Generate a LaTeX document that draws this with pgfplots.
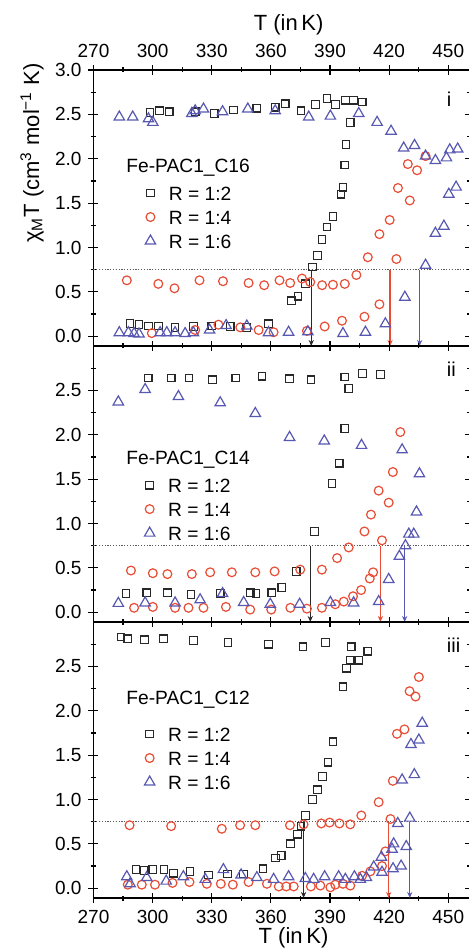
\documentclass[border=0pt]{standalone}
\usepackage{fontspec}
\setmainfont{Liberation Sans}
\usepackage{pgfplots}
\pgfplotsset{compat=1.18}
\usetikzlibrary{arrows.meta}

\definecolor{cblk}{RGB}{40,40,40}
\definecolor{cred}{RGB}{232,76,52}
\definecolor{cblu}{RGB}{88,88,178}
\definecolor{cdot}{RGB}{90,90,90}

\tikzset{
  ttl/.style={anchor=west, inner sep=0pt, text height=7pt, text depth=0pt, font=\fontsize{9.6}{11}\selectfont},
  plab/.style={anchor=west, inner sep=0pt, font=\fontsize{10}{12}\selectfont},
  alab/.style={anchor=base, inner sep=0pt, font=\fontsize{11}{13}\selectfont},
}
\pgfplotsset{
  panel/.style={
    scale only axis, width=188.2pt, height=138pt, clip=false,
    xmin=270, xmax=461, ymin=-0.11, ymax=3.0,
    xtick={270,300,...,450}, minor xtick={285,315,...,435},
    minor ytick={0.25,0.75,...,2.75},
    tick align=center, major tick length=5pt, minor tick length=2.5pt,
    tick style={line width=0.6pt, black},
    axis line style={line width=0.8pt},
    yticklabel pos=left,
    ticklabel style={font=\fontsize{9.5}{11}\selectfont},
    yticklabel style={/pgf/number format/.cd, fixed, fixed zerofill, precision=1, assume math mode=true},
    xticklabel style={/pgf/number format/.cd, assume math mode=true},
    legend cell align=left,
    legend style={draw=none, fill=none, inner sep=0pt, outer sep=0pt,
      row sep=5pt, column sep=5pt,
      nodes={inner sep=0pt, text height=7pt, text depth=0pt, font=\fontsize{9.6}{11}\selectfont}},
    legend image code/.code={\path (-4pt,0pt) (4pt,0pt); \draw[##1] plot coordinates {(0pt,0pt)};},
  },
  sq/.style={only marks, mark=square, mark size=1.9pt, color=cblk, mark options={line width=0.6pt}},
  ci/.style={only marks, mark=o, mark size=2.2pt, color=cred, mark options={line width=0.6pt}},
  tr/.style={only marks, mark=triangle, mark size=3pt, color=cblu, mark options={line width=0.6pt}},
  dotl/.style={cdot, line width=0.5pt, dash pattern=on 0.6pt off 0.8pt, forget plot},
  arr/.style={line width=0.6pt, -{Stealth[length=3pt,width=2.6pt]}, forget plot},
}

\begin{document}
\begin{tikzpicture}
\path[use as bounding box] (-46.75pt,-25pt) rectangle (187.25pt,449pt);

% ---------------- panel i ----------------
\begin{axis}[panel, at={(0pt,276pt)}, anchor=south west,
  ytick={0,0.5,...,3.0}, xticklabel pos=upper,
  legend style={at={(axis cs:298.7,1.343)}, anchor=west, xshift=-4pt}]
\addplot[dotl] coordinates {(270,0.75) (461,0.75)};
\addplot[arr, cblk] coordinates {(380.5,0.75) (380.5,-0.11)};
\addplot[arr, cred] coordinates {(420.5,0.75) (420.5,-0.11)};
\addplot[arr, cblu] coordinates {(435.5,0.75) (435.5,-0.11)};
\addplot[sq] coordinates {
(288.5,0.145) (293.1,0.13) (297.9,0.115) (302.9,0.115) (311.4,0.10) (320.7,0.11) (330,0.115) (339.4,0.11) (347.8,0.10) (358.8,0.14) (370.4,0.40) (373.8,0.45) (377.5,0.59) (381.2,0.78) (383.7,0.91) (385.9,1.09) (388.5,1.23) (391.5,1.35) (395.6,1.60) (396.6,1.68) (397.5,1.93) (398.1,2.16) (400.3,2.41) (298.7,2.52) (303.4,2.54) (308.4,2.53) (321.6,2.53) (331.2,2.51) (341.0,2.55) (352.9,2.57) (362.2,2.58) (367.3,2.62) (375.3,2.54) (382.6,2.61) (388.5,2.68) (392.7,2.61) (397.8,2.66) (402,2.66) (406.3,2.64)};
\addlegendentry{R = 1:2}
\addplot[ci] coordinates {
(286.9,0.63) (302.9,0.59) (311.1,0.54) (323.8,0.63) (335.7,0.62) (348.7,0.60) (356.6,0.575) (364.4,0.63) (369.8,0.60) (375.8,0.65) (380,0.61) (386,0.575) (391.5,0.58) (397.5,0.59) (403.4,0.69) (409.2,0.89) (415.1,1.15) (420.3,1.31) (423.7,0.87) (424.5,1.67) (429.5,1.94) (430.5,1.53) (434.2,1.87) (438.5,2.03) (415.1,0.36) (407.5,0.22) (396.1,0.175) (387.3,0.11) (378.3,0.06) (361.4,0.045) (353.8,0.07) (344.5,0.10) (333.4,0.13) (321.6,0.07) (299.6,0.035)};
\addlegendentry{R = 1:4}
\addplot[tr] coordinates {
(283.1,2.47) (289.9,2.47) (297.9,2.45) (300.1,2.41) (319.9,2.51) (321.6,2.54) (325.8,2.56) (335.5,2.53) (348.3,2.56) (362.2,2.54) (379.2,2.47) (390.2,2.48) (404.6,2.51) (413.9,2.41) (421,2.31) (427.4,2.12) (432.9,2.15) (438.5,2.03) (443.5,1.98) (449.1,2.01) (450.8,2.10) (454.8,2.11) (450.3,1.60) (454,1.68) (443.5,1.16) (447.8,1.24) (438.5,0.80) (428,0.44)
(283.1,0.04) (287.7,0.04) (290.6,0.03) (293.1,0.025) (303.8,0.04) (307.2,0.04) (311.4,0.04) (316.5,0.03) (320.7,0.04) (328.9,0.07) (337.3,0.12) (347.8,0.115) (358.8,0.04) (369,0.045) (378.8,0.05) (396.6,0.03) (408,0.045) (418.1,0.14)};
\addlegendentry{R = 1:6}
\node[ttl] at (axis cs:286.5,1.929) {Fe-PAC1\_C16};
\node[plab] at (rel axis cs:0.938,0.895) {i};
\node[alab] at ([yshift=19.6pt]axis cs:369,3.0) {T (in\,K)};
\node[rotate=90, anchor=center, inner sep=0pt, font=\fontsize{11}{13}\selectfont] at ([xshift=-30.75pt]axis cs:270,2.064) {χ\textsubscript{M}T (cm\textsuperscript{3} mol\textsuperscript{−1} K)};
\end{axis}

% ---------------- panel ii ----------------
\begin{axis}[panel, at={(0pt,138pt)}, anchor=south west,
  ytick={0,0.5,...,2.5}, xticklabels={},
  legend style={at={(axis cs:298.3,1.162)}, anchor=west, xshift=-4pt}]
\addplot[dotl] coordinates {(270,0.75) (461,0.75)};
\addplot[arr, cblk] coordinates {(380.0,0.75) (380.0,-0.11)};
\addplot[arr, cred] coordinates {(415.6,0.75) (415.6,-0.11)};
\addplot[arr, cblu] coordinates {(427.9,0.75) (427.9,-0.11)};
\addplot[sq] coordinates {
(297.8,2.64) (309.4,2.64) (318.5,2.64) (330.4,2.62) (342.2,2.64) (355.5,2.66) (369.5,2.63) (380.4,2.62) (397.5,2.65) (399.5,2.52) (406.6,2.69) (415.6,2.68) (397.5,2.07) (394.7,1.68) (391,1.45) (382.2,0.91) (372.9,0.46) (365.6,0.28) (360.5,0.22) (352.5,0.21) (349.5,0.22) (334.3,0.21) (319.5,0.20) (307.6,0.22) (297,0.22) (286.5,0.21)};
\addlegendentry{R = 1:2}
\addplot[ci] coordinates {
(289,0.47) (300.1,0.44) (307.5,0.43) (319.9,0.43) (329.2,0.45) (340.2,0.45) (352.1,0.45) (361.9,0.46) (374.9,0.48) (385.9,0.48) (393.6,0.61) (399.5,0.73) (407.5,0.91) (410.8,1.10) (414.7,1.37) (419.8,1.235) (421.9,1.58) (425.7,2.03) (416.4,0.81) (411.9,0.45) (410.2,0.38) (405.8,0.25) (401.7,0.18) (397,0.12) (392.7,0.09) (385.9,0.05) (378.3,0.04) (369.9,0.05) (360.2,0.03) (349.5,0.03) (337.2,0.06) (325.8,0.05) (318.2,0.05) (311.4,0.05) (300.1,0.06) (290.6,0.05)};
\addlegendentry{R = 1:4}
\addplot[tr] coordinates {
(282.6,2.37) (296.2,2.51) (313.1,2.43) (334.3,2.36) (352.1,2.24) (369.5,1.97) (387.1,1.93) (406,1.88) (426.6,1.83) (435.4,1.56) (433.9,1.13) (430.0,0.88) (432.5,0.88) (428.3,0.75) (425.2,0.63) (419.8,0.37) (414.7,0.12) (402,0.105) (390.2,0.11) (374.6,0.09) (359.7,0.09) (346.2,0.11) (335.5,0.21) (324.1,0.14) (311.4,0.105) (296.2,0.105) (282.6,0.10)};
\addlegendentry{R = 1:6}
\node[ttl] at (axis cs:286.5,1.749) {Fe-PAC1\_C14};
\node[plab] at (rel axis cs:0.938,0.917) {ii};
\end{axis}

% ---------------- panel iii ----------------
\begin{axis}[panel, at={(0pt,0pt)}, anchor=south west,
  ytick={0,0.5,...,2.5},
  legend style={at={(axis cs:298.3,1.467)}, anchor=west, xshift=-4pt}]
\addplot[dotl] coordinates {(270,0.75) (461,0.75)};
\addplot[arr, cblk] coordinates {(376.6,0.75) (376.6,-0.11)};
\addplot[arr, cred] coordinates {(419.8,0.75) (419.8,-0.11)};
\addplot[arr, cblu] coordinates {(430.5,0.75) (430.5,-0.11)};
\addplot[sq] coordinates {
(284,2.83) (287.4,2.81) (295.8,2.80) (305.5,2.81) (320.7,2.79) (338.2,2.77) (358.8,2.75) (376.3,2.72) (387.7,2.77) (400.8,2.72) (400.3,2.57) (398.3,2.48) (396.6,2.27) (404.6,2.57) (409.2,2.67) (391.5,1.65) (389,1.42) (386.3,1.26) (383.7,1.11) (381.2,1.00) (377.5,0.82) (375.3,0.70) (373.6,0.61) (369.9,0.50) (365.2,0.37) (362.3,0.34) (356,0.22) (346.2,0.16) (338,0.16) (328.4,0.15) (319,0.19) (310.6,0.17) (305.8,0.21) (300.1,0.21) (295.7,0.20) (291.6,0.21)};
\addlegendentry{R = 1:2}
\addplot[ci] coordinates {
(288.3,0.71) (309.4,0.70) (335.1,0.67) (344.4,0.71) (352.1,0.71) (369.7,0.71) (376.6,0.72) (385.6,0.73) (389.8,0.74) (394.8,0.73) (400.3,0.72) (405.9,0.82) (414.7,0.97) (421.9,1.21) (424,1.74) (427.8,1.79) (430.4,2.22) (433.4,2.16) (435.1,2.38) (420.7,0.78) (418.1,0.415) (416.4,0.25) (410.5,0.19) (406.3,0.14) (400.3,0.03) (396.6,0.05) (392.7,0.04) (390.2,0.01) (385.1,0.03) (380.3,0.02) (371.6,0.02) (367.8,0.02) (364,0.02) (358,0.05) (348.7,0.07) (340.7,0.04) (334.6,0.05) (327.5,0.05) (318.7,0.07) (310.1,0.06) (301.2,0.04) (294.5,0.04) (287.4,0.04)};
\addlegendentry{R = 1:4}
\addplot[tr] coordinates {
(286.9,0.13) (288.6,0.05) (297,0.12) (306.9,0.08) (315.6,0.13) (326.7,0.10) (335.9,0.21) (344.9,0.15) (352.9,0.12) (361.4,0.10) (369,0.13) (377.5,0.11) (381.7,0.10) (387.3,0.13) (394.4,0.13) (397.8,0.10) (402.4,0.13) (405.4,0.10) (408.5,0.12) (412.2,0.24) (416.1,0.35) (416.4,0.18) (422,0.22) (421.5,0.44) (422.3,0.50) (426.1,0.25) (428.7,0.47) (424.4,0.73) (430.5,0.79) (426.6,1.22) (432.8,1.28) (431.1,1.62) (435.1,1.67) (436.8,1.86)};
\addlegendentry{R = 1:6}
\node[ttl] at (axis cs:286.5,2.154) {Fe-PAC1\_C12};
\node[plab] at (rel axis cs:0.938,0.917) {iii};
\node[alab] at ([yshift=-22.5pt]axis cs:371.5,-0.11) {T (in\,K)};
\end{axis}
\end{tikzpicture}
\end{document}
